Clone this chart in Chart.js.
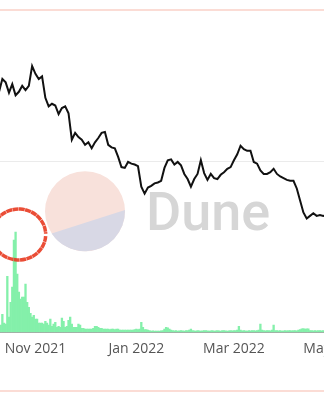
<!DOCTYPE html>
<html>
<head>
<meta charset="utf-8">
<script src="https://cdn.jsdelivr.net/npm/chart.js@4/dist/chart.umd.min.js"></script>
<style>
  html, body { margin: 0; padding: 0; background: #fff; }
  #wrap { position: relative; width: 324px; height: 400px; overflow: hidden; }
  #wrap canvas { position: absolute; left: -60px; top: -20px; }
  .rule { position: absolute; left: 0; width: 324px; height: 2px; background: #fbdcd5; z-index: 2; }
</style>
</head>
<body>
<div id="wrap">
  <div class="rule" style="top:9px"></div>
  <canvas id="chart" width="460" height="420"></canvas>
  <div class="rule" style="top:390px"></div>
</div>
<script>
(function(){
  // x values are days counted from 1 Nov 2021
  const priceFirstDay = -24;   // one price every 2 days
  const volumeFirstDay = -24;  // one volume bar every day

  const price = [
    2.85, 2.81, 2.96, 2.92, 2.80, 2.90, 2.77, 2.81, 2.88, 2.83,
    2.88, 3.11, 3.02, 2.96, 2.99, 2.74, 2.64, 2.67, 2.65, 2.55,
    2.62, 2.64, 2.56, 2.25, 2.33, 2.28, 2.25, 2.19, 2.22, 2.15,
    2.22, 2.27, 2.33, 2.34, 2.19, 2.16, 2.15, 2.05, 1.93, 1.92,
    1.99, 1.97, 1.96, 1.94, 1.70, 1.62, 1.69, 1.71, 1.74, 1.75,
    1.77, 1.92, 2.01, 2.02, 1.96, 1.99, 1.95, 1.85, 1.79, 1.70,
    1.79, 1.85, 2.01, 1.86, 1.78, 1.85, 1.80, 1.79, 1.84, 1.87,
    1.91, 1.93, 2.01, 2.08, 2.18, 2.14, 2.12, 2.12, 1.99, 1.97,
    1.89, 1.85, 1.85, 1.87, 1.91, 1.85, 1.82, 1.80, 1.78, 1.77,
    1.77, 1.68, 1.54, 1.40, 1.33, 1.36, 1.39, 1.36, 1.37, 1.36,
    1.37
  ];

  const volume = [
    0.29, 0.35, 0.41, 0.41, 1.05, 0.53, 0.47, 3.27, 0.88, 1.75,
    2.63, 5.38, 5.85, 3.39, 2.34, 1.93, 2.05, 2.05, 2.81, 1.75,
    1.46, 1.11, 0.88, 0.99, 0.76, 0.76, 0.53, 0.53, 0.53, 0.47,
    0.64, 0.53, 0.41, 0.76, 0.35, 0.47, 0.58, 0.29, 0.35, 0.29,
    0.82, 0.64, 0.29, 0.35, 0.70, 0.88, 0.47, 0.29, 0.29, 0.29,
    0.47, 0.41, 0.23, 0.23, 0.18, 0.18, 0.18, 0.18, 0.18, 0.23,
    0.35, 0.35, 0.29, 0.23, 0.23, 0.18, 0.18, 0.18, 0.18, 0.15,
    0.18, 0.18, 0.15, 0.18, 0.18, 0.12, 0.12, 0.12, 0.12, 0.12,
    0.12, 0.12, 0.12, 0.12, 0.15, 0.18, 0.15, 0.18, 0.58, 0.29,
    0.15, 0.15, 0.12, 0.09, 0.06, 0.08, 0.06, 0.07, 0.06, 0.06,
    0.08, 0.09, 0.18, 0.29, 0.26, 0.18, 0.12, 0.09, 0.08, 0.09,
    0.07, 0.08, 0.09, 0.08, 0.07, 0.09, 0.09, 0.12, 0.18, 0.09,
    0.08, 0.07, 0.09, 0.08, 0.07, 0.08, 0.09, 0.10, 0.08, 0.07,
    0.08, 0.09, 0.07, 0.08, 0.09, 0.08, 0.07, 0.09, 0.10, 0.08,
    0.07, 0.08, 0.09, 0.08, 0.10, 0.09, 0.12, 0.35, 0.12, 0.08,
    0.09, 0.08, 0.07, 0.09, 0.08, 0.10, 0.09, 0.08, 0.09, 0.12,
    0.47, 0.12, 0.09, 0.08, 0.09, 0.10, 0.08, 0.12, 0.41, 0.10,
    0.09, 0.08, 0.09, 0.07, 0.08, 0.09, 0.08, 0.10, 0.09, 0.08,
    0.09, 0.10, 0.08, 0.12, 0.15, 0.20, 0.21, 0.18, 0.20, 0.19,
    0.10, 0.09, 0.08, 0.09, 0.08, 0.09, 0.10, 0.08, 0.09, 0.08,
    0.09
  ];

  const tickDays = [0, 61, 120, 181];
  const tickLabels = ['Nov 2021', 'Jan 2022', 'Mar 2022', 'May 2022'];

  // canvas sits 60px left / 20px above the visible frame
  const OX = 60, OY = 20;

  const watermark = {
    id: 'watermark',
    beforeDatasetsDraw(chart){
      const c = chart.ctx, cx = 85 + OX, cy = 211.3 + OY, r = 40, deg = Math.PI/180;
      c.save();
      c.fillStyle = '#f8e1db';
      c.beginPath(); c.arc(cx, cy, r, 0, Math.PI*2); c.fill();
      c.fillStyle = '#d8d8e5';
      c.beginPath(); c.arc(cx, cy, r, -1.9*deg, 146.5*deg); c.closePath(); c.fill();
      c.font = '500 54px Roboto';
      c.fillStyle = '#d6d6d6';
      c.textBaseline = 'alphabetic';
      c.fillText('Dune', 146 + OX, 230 + OY);
      c.restore();
    }
  };

  const marker = {
    id: 'marker',
    afterDatasetsDraw(chart){
      const c = chart.ctx;
      c.save();
      c.strokeStyle = 'rgba(232,58,32,0.9)';
      c.lineWidth = 3.5;
      c.setLineDash([6, 0.4]);
      c.beginPath();
      c.ellipse(18.7 + OX, 234.5 + OY, 27, 25.5, 0, 0.06, Math.PI*2 - 0.03);
      c.stroke();
      c.restore();
    }
  };

  new Chart(document.getElementById('chart'), {
    type: 'bar',
    data: {
      datasets: [
        {
          type: 'line',
          data: price.map((v,i)=>({x: priceFirstDay + 2*i, y: v})),
          yAxisID: 'y',
          borderColor: '#111',
          borderWidth: 2,
          pointRadius: 0,
          tension: 0,
          order: 0
        },
        {
          type: 'bar',
          data: volume.map((v,i)=>({x: volumeFirstDay + i, y: v})),
          yAxisID: 'vol',
          backgroundColor: '#84f0aa',
          barPercentage: 1,
          categoryPercentage: 1,
          order: 1
        }
      ]
    },
    options: {
      responsive: false,
      animation: false,
      layout: { padding: { top: 10, bottom: 35, left: 0, right: 0 } },
      plugins: { legend: { display: false }, tooltip: { enabled: false } },
      scales: {
        x: {
          type: 'linear', min: -57.7, max: 220.4, offset: false,
          grid: { display: false, drawTicks: false },
          border: { color: '#a6a6a6' },
          afterBuildTicks: a => { a.ticks = tickDays.map(v=>({value: v})); },
          ticks: {
            autoSkip: false, maxRotation: 0, padding: 8, color: '#555',
            font: { family: '"Open Sans"', size: 14 },
            callback: (v, i) => tickLabels[i]
          }
        },
        y: {
          position: 'left', min: 0, max: 4,
          afterBuildTicks: a => { a.ticks = [{value: 0}, {value: 2}, {value: 4}]; },
          afterFit: s => { s.width = 0; },
          grid: { color: '#ebebeb', drawTicks: false },
          border: { display: false },
          ticks: { display: false }
        },
        vol: { display: false, min: 0, max: 20 }
      }
    },
    plugins: [watermark, marker]
  });
})();
</script>
</body>
</html>
